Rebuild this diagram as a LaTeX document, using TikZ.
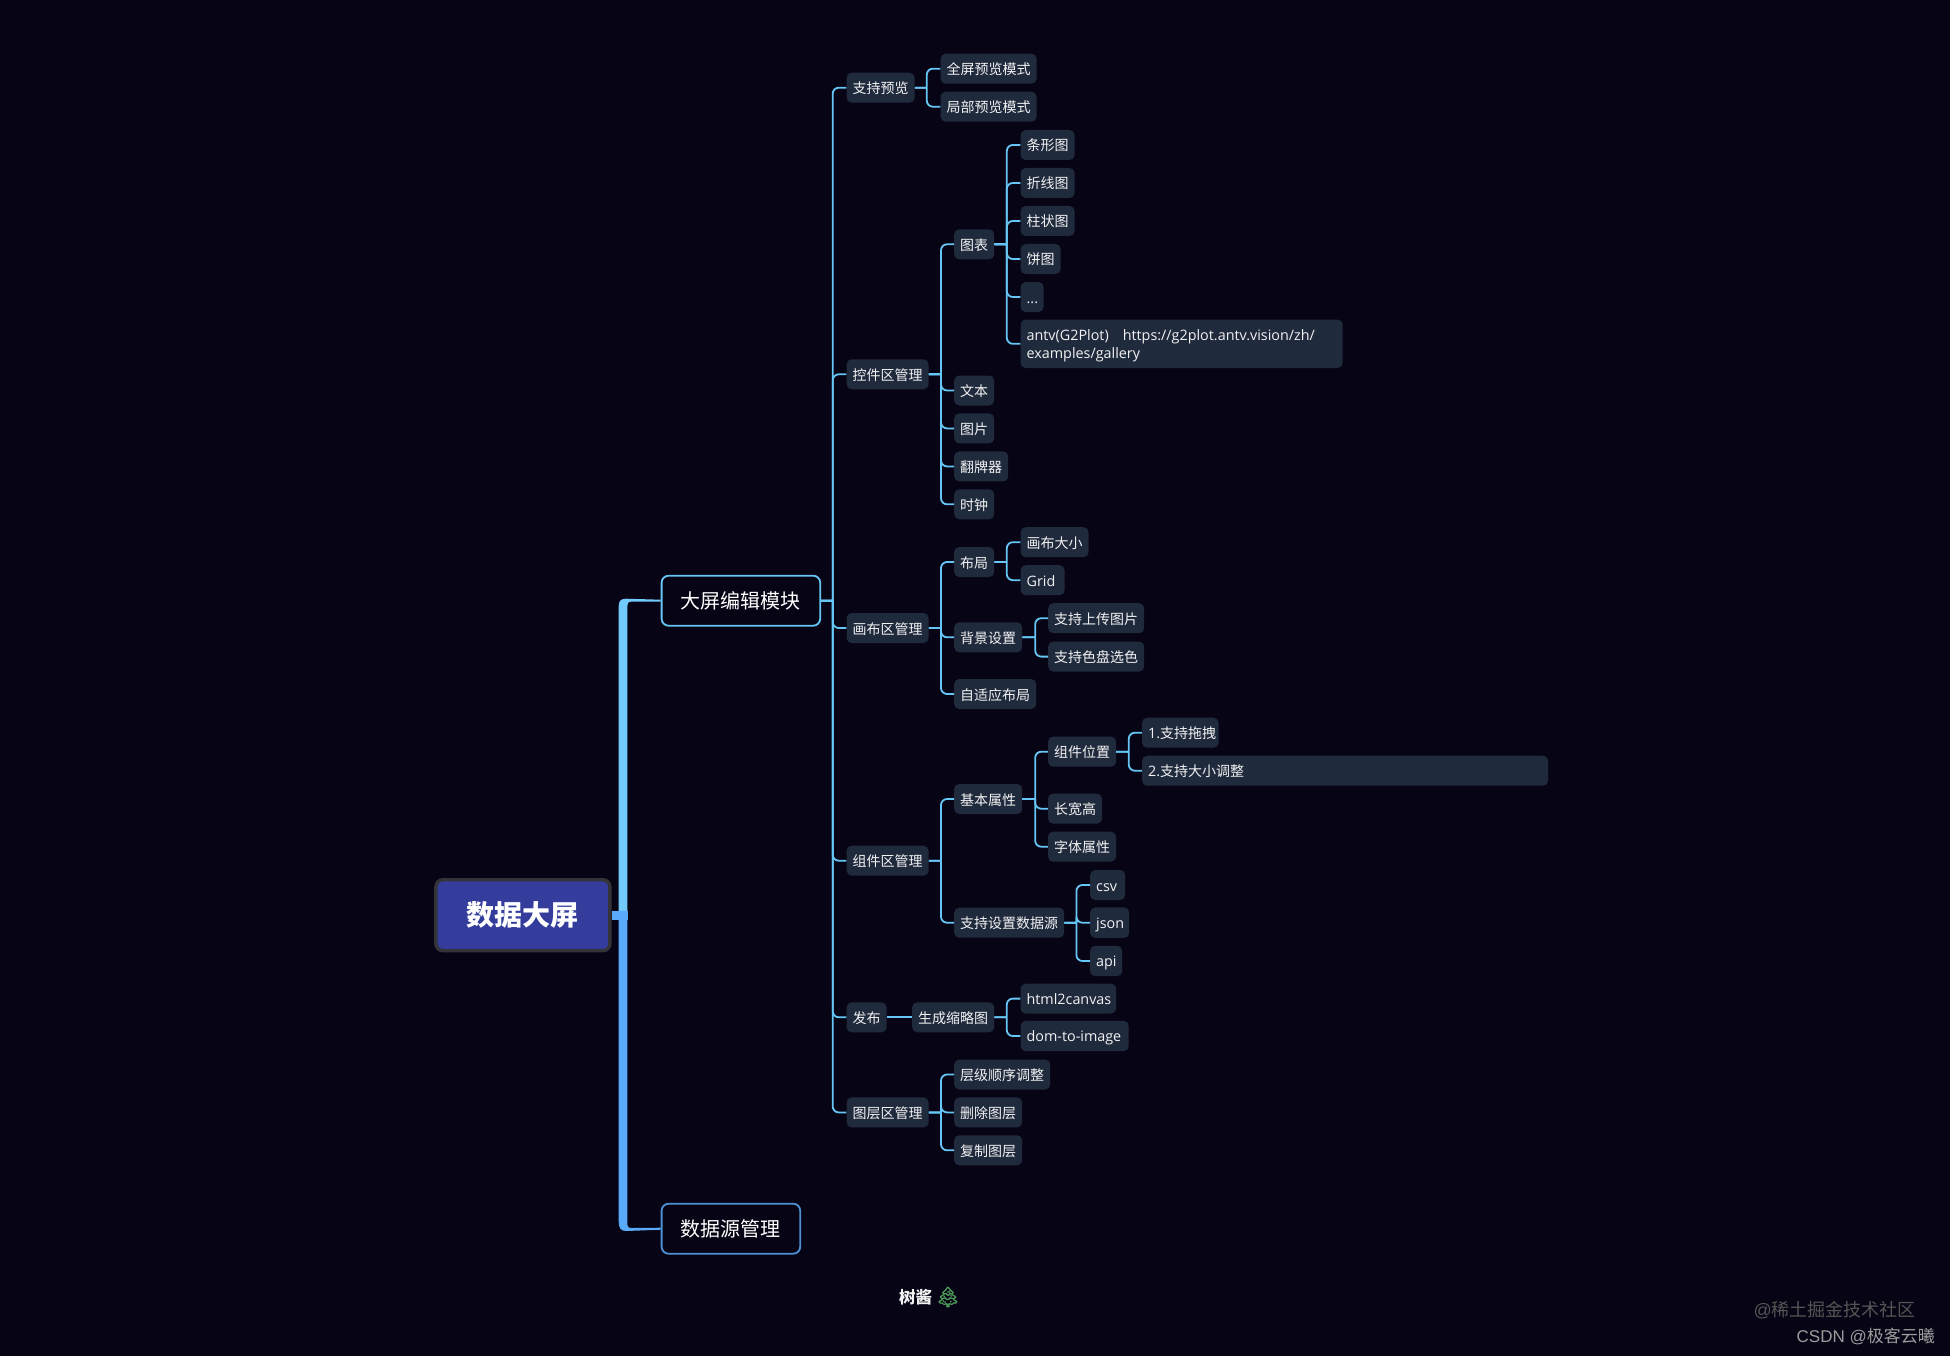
\documentclass[tikz,border=0pt]{standalone}
\usepackage{fontspec}
\setmainfont{Noto Sans CJK SC}
\newfontfamily\latn[Scale=1.025]{Open Sans}
\newfontfamily\arial{Liberation Sans}
\newfontfamily\treefont[FakeBold=2]{Noto Emoji}
\usetikzlibrary{calc}
\definecolor{bgc}{HTML}{070415}
\definecolor{itemc}{HTML}{202A3D}
\definecolor{txtc}{HTML}{F2F2F2}
\definecolor{linec}{HTML}{66C6F5}
\definecolor{trunkup}{HTML}{72C9FC}
\definecolor{trunkdn}{HTML}{59ABFA}
\definecolor{rootf}{HTML}{343D9B}
\definecolor{rootb}{HTML}{333338}
\definecolor{wmA}{HTML}{555555}
\definecolor{wmB}{HTML}{9C9C9C}
\definecolor{treec}{HTML}{4C9A58}
\newcommand\itemstrut{\rule[-3pt]{0pt}{18pt}}
\newcommand\itemstart{\lineskiplimit=-10pt\relax\itemstrut}
\tikzset{
  item/.style={anchor=west,fill=itemc,rounded corners=5pt,text=txtc,align=left,
    inner xsep=6pt,inner ysep=6pt,
    font=\fontsize{14}{18}\selectfont,
    execute at begin node={\itemstart},execute at end node={\itemstrut}},
  modbox/.style={anchor=west,rounded corners=7pt,line width=1.8pt,text=white,
    font=\fontsize{20}{24}\selectfont,minimum height=50pt,inner xsep=0pt,align=center},
  rootbox/.style={anchor=center,fill=rootf,draw=rootb,line width=3.4pt,rounded corners=7pt,
    text=white,font=\fontsize{28}{32}\selectfont\bfseries,inner sep=0pt,
    minimum width=174pt,minimum height=71pt},
  conn/.style={draw=linec,line width=1.8pt},
}
\newcommand\linkto[3]{\draw[conn] (#1.east) -- (#2 |- #1.east) (#2 |- #1.east) [rounded corners=6pt] -- (#2 |- #3.west) -- (#3.west);}
\begin{document}
\begin{tikzpicture}[x=1pt,y=-1pt]
\useasboundingbox[fill=bgc] (0,0) rectangle (1950,1356);
% buses
\coordinate (busMain) at (832.7,0);
\coordinate (busPre) at (926.8,0);
\coordinate (busA) at (941,0);
\coordinate (busB) at (1006.8,0);
\coordinate (busC) at (1035.2,0);
\coordinate (busD) at (1128.8,0);
\coordinate (busE) at (1076.4,0);
% root and modules
\node[rootbox] (root) at (522.9,915.2) {\raisebox{1.2pt}{数据大屏}};
\node[modbox,draw=linec,minimum width=158.6pt] (mod1) at (660.7,600.7) {大屏编辑模块};
\node[modbox,draw=trunkdn!85!black,minimum width=138.6pt] (mod2) at (660.7,1228.7) {数据源管理};
% level 2
\node[item,text width=56pt] (pre) at (846.4,87.7) {支持预览};
\node[item,text width=70pt] (ctl) at (846.4,374.3) {控件区管理};
\node[item,text width=70pt] (cvs) at (846.4,628) {画布区管理};
\node[item,text width=70pt] (cmp) at (846.4,860.7) {组件区管理};
\node[item,text width=28pt] (pub) at (846.4,1017.3) {发布};
\node[item,text width=70pt] (lay) at (846.4,1112.4) {图层区管理};
% preview
\node[item,text width=84pt] (pre1) at (940.4,68.7) {全屏预览模式};
\node[item,text width=84pt] (pre2) at (940.4,106.7) {局部预览模式};
% controls
\node[item,text width=28pt] (chart) at (954,244.3) {图表};
\node[item,text width=42pt] (ch1) at (1020.4,145) {条形图};
\node[item,text width=42pt] (ch2) at (1020.4,183) {折线图};
\node[item,text width=42pt] (ch3) at (1020.4,221) {柱状图};
\node[item,text width=28pt] (ch4) at (1020.4,259) {饼图};
\node[item,text width=11pt] (ch5) at (1020.4,297) {\latn ...};
\node[item,text width=310pt] (ch6) at (1020.4,343.8) {\latn antv(G2Plot)\ \ \ https://g2plot.antv.vision/zh/\\examples/gallery};
\node[item,text width=28pt] (txt) at (954,390.5) {文本};
\node[item,text width=28pt] (img) at (954,428.4) {图片};
\node[item,text width=42pt] (flip) at (954,466.4) {翻牌器};
\node[item,text width=28pt] (clk) at (954,504.3) {时钟};
% canvas
\node[item,text width=28pt] (lo) at (954,562) {布局};
\node[item,text width=56pt] (lo1) at (1020.4,542.2) {画布大小};
\node[item,text width=32pt] (lo2) at (1020.4,580.2) {\latn Grid};
\node[item,text width=56pt] (bg) at (954,637.3) {背景设置};
\node[item,text width=84pt] (bg1) at (1048,618.2) {支持上传图片};
\node[item,text width=84pt] (bg2) at (1048,656.6) {支持色盘选色};
\node[item,text width=70pt] (ada) at (954,694) {自适应布局};
% component
\node[item,text width=56pt] (bas) at (954,799) {基本属性};
\node[item,text width=56pt] (pos) at (1047.8,751.7) {组件位置};
\node[item,text width=64.5pt] (pos1) at (1141.9,732.7) {{\latn 1.}支持拖拽};
\node[item,text width=394pt] (pos2) at (1141.9,770.7) {{\latn 2.}支持大小调整};
\node[item,text width=42pt] (size) at (1047.8,808.7) {长宽高};
\node[item,text width=56pt] (fnt) at (1047.8,846.7) {字体属性};
\node[item,text width=98pt] (dat) at (954,922.7) {支持设置数据源};
\node[item,text width=23pt] (csv) at (1090,885) {\latn csv};
\node[item,text width=27pt] (json) at (1090,922.7) {\latn json};
\node[item,text width=20pt] (api) at (1090,961) {\latn api};
% publish
\node[item,text width=70pt] (thu) at (912,1017.3) {生成缩略图};
\node[item,text width=83.5pt] (h2c) at (1020.4,998.6) {\latn html2canvas};
\node[item,text width=96pt] (d2i) at (1020.4,1036) {\latn dom-to-image};
% layers
\node[item,text width=84pt] (lay1) at (954,1074.5) {层级顺序调整};
\node[item,text width=56pt] (lay2) at (954,1112.4) {删除图层};
\node[item,text width=56pt] (lay3) at (954,1150.3) {复制图层};
% footer
\node[text=txtc,font=\fontsize{16.5}{18}\selectfont\bfseries,anchor=west,inner sep=0pt] (foot) at (899,1297) {树酱};
\node[text=treec,font=\treefont\fontsize{20}{22}\selectfont,anchor=west,inner sep=0pt] (tree) at (935,1297) {🌲};
\node[text=wmA,font=\fontsize{18}{20}\selectfont,anchor=east,inner sep=0pt] (wm1) at (1916,1310) {{\arial @}稀土掘金技术社区};
\node[text=wmB,font=\fontsize{17}{20}\selectfont,anchor=east,inner sep=0pt] (wm2) at (1935,1336) {{\arial CSDN @}极客云曦};
% trunk
\fill[trunkdn] (root.east) ++(0,-4.5) -- ++(16.5,0) -- ++(0,9) -- ++(-16.5,0) -- cycle;
\fill[trunkup] ([yshift=1pt]mod1.west) -- (626,598.7)
  .. controls (621,598.7) and (618.7,601) .. (618.7,606) -- (618.7,911) -- (627.3,911) -- (627.3,606)
  .. controls (627.3,603) and (628,601.6) .. (632,601.6) -- ([yshift=-1pt]mod1.west) -- cycle;
\fill[trunkdn] ([yshift=1pt]mod2.west) -- (632,1228)
  .. controls (628,1228) and (627.3,1227) .. (627.3,1222) -- (627.3,911) -- (618.7,911) -- (618.7,1222)
  .. controls (618.7,1228) and (621,1231) .. (626,1231) -- ([yshift=-1pt]mod2.west) -- cycle;
% connectors
\draw[conn] (mod1.east) -- (busMain |- mod1.east);
\foreach \c in {pre,ctl,cvs,cmp,pub,lay}{\linkto{mod1}{busMain}{\c}}
\foreach \c in {pre1,pre2}{\linkto{pre}{busPre}{\c}}
\foreach \c in {chart,txt,img,flip,clk}{\linkto{ctl}{busA}{\c}}
\foreach \c in {ch1,ch2,ch3,ch4,ch5,ch6}{\linkto{chart}{busB}{\c}}
\foreach \c in {lo,bg,ada}{\linkto{cvs}{busA}{\c}}
\foreach \c in {lo1,lo2}{\linkto{lo}{busB}{\c}}
\foreach \c in {bg1,bg2}{\linkto{bg}{busC}{\c}}
\foreach \c in {bas,dat}{\linkto{cmp}{busA}{\c}}
\foreach \c in {pos,size,fnt}{\linkto{bas}{busC}{\c}}
\foreach \c in {pos1,pos2}{\linkto{pos}{busD}{\c}}
\foreach \c in {csv,json,api}{\linkto{dat}{busE}{\c}}
\draw[conn] (pub.east) -- (thu.west);
\foreach \c in {h2c,d2i}{\linkto{thu}{busB}{\c}}
\foreach \c in {lay1,lay2,lay3}{\linkto{lay}{busA}{\c}}
\end{tikzpicture}
\end{document}
